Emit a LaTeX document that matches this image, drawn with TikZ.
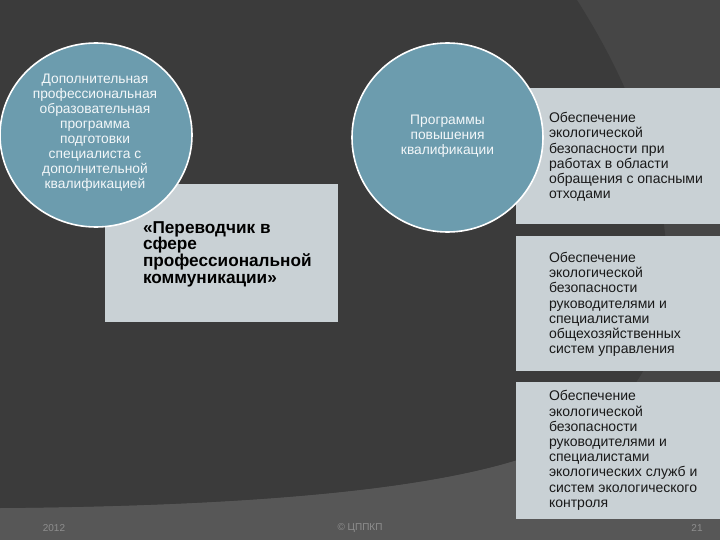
\documentclass[tikz,border=0pt]{standalone}
\usepackage{fontspec}
\usetikzlibrary{shapes.geometric}
\setmainfont{Liberation Sans}
\definecolor{bgdark}{HTML}{3B3B3B}
\definecolor{bgmid}{HTML}{464646}
\definecolor{bglight}{HTML}{575757}
\definecolor{circfill}{HTML}{6C9CAE}
\definecolor{boxfill}{HTML}{C9D1D5}
\definecolor{foot}{HTML}{8E8E8E}
\begin{document}
\begin{tikzpicture}[x=1pt,y=-1pt,
  circ/.style={ellipse, draw=white, line width=1.6pt, fill=circfill, inner sep=0pt},
  circtext/.style={text=white!92!circfill, align=center, inner sep=0pt, font=\fontsize{13.8}{15}\selectfont},
  rbox/.style={fill=boxfill, draw=none, inner sep=0pt, minimum width=204pt},
  rtext/.style={text=black!90, align=left, inner sep=0pt, anchor=west, font=\fontsize{14}{15.2}\selectfont},
  foottext/.style={text=foot, inner sep=0pt, font=\fontsize{10}{11}\selectfont}
]
\useasboundingbox (0,0) rectangle (720,540);
% background
\fill[bgmid] (0,0) rectangle (720,540);
\fill[bglight] (0,508) .. controls (250,506) and (420,490) .. (517,460)
  .. controls (600,432) and (680,400) .. (720,390) -- (720,540) -- (0,540) -- cycle;
\fill[bgdark] (0,0) -- (577,0) .. controls (615,60) and (662,150) .. (667,260)
  .. controls (672,380) and (600,438) .. (517,460)
  .. controls (420,490) and (250,506) .. (0,508) -- cycle;

% middle box
\node[fill=boxfill, inner sep=0pt, minimum width=233pt, minimum height=138pt] (pbox) at (221.5,253) {};
\node[anchor=west, align=left, inner sep=0pt, text=black, font=\bfseries\fontsize{17.2}{16.6}\selectfont] (ptext) at ([xshift=38pt,yshift=-1pt]pbox.west)
  {«Переводчик в\\сфере\\профессиональной\\коммуникации»};

% right boxes
\node[rbox, minimum height=136pt] (b1) at (618,156) {};
\node[rbox, minimum height=135pt] (b2) at (618,303.5) {};
\node[rbox, minimum height=137pt] (b3) at (618,450.5) {};
\node[rtext] (t1) at ([xshift=33pt,yshift=-1pt]b1.west) {Обеспечение\\экологической\\безопасности при\\работах в области\\обращения с опасными\\отходами};
\node[rtext] (t2) at ([xshift=33pt,yshift=-1pt]b2.west) {Обеспечение\\экологической\\безопасности\\руководителями и\\специалистами\\общехозяйственных\\систем управления};
\node[rtext] (t3) at ([xshift=33pt]b3.west) {Обеспечение\\экологической\\безопасности\\руководителями и\\специалистами\\экологических служб и\\систем экологического\\контроля};

% circles
\node[circ, minimum width=192pt, minimum height=184pt] (c1) at (96,135) {};
\node[circtext] (c1t) at (95,133) {Дополнительная\\профессиональная\\образовательная\\программа\\подготовки\\специалиста с\\дополнительной\\квалификацией};
\node[circ, minimum width=191pt, minimum height=189pt] (c2) at (447.5,137.5) {};
\node[circtext] (c2t) at (447.5,136) {Программы\\повышения\\квалификации};

% footer
\node[foottext] (f1) at (54,528) {2012};
\node[foottext] (f2) at (360,528) {© ЦППКП};
\node[foottext] (f3) at (697,528) {21};
\end{tikzpicture}
\end{document}
